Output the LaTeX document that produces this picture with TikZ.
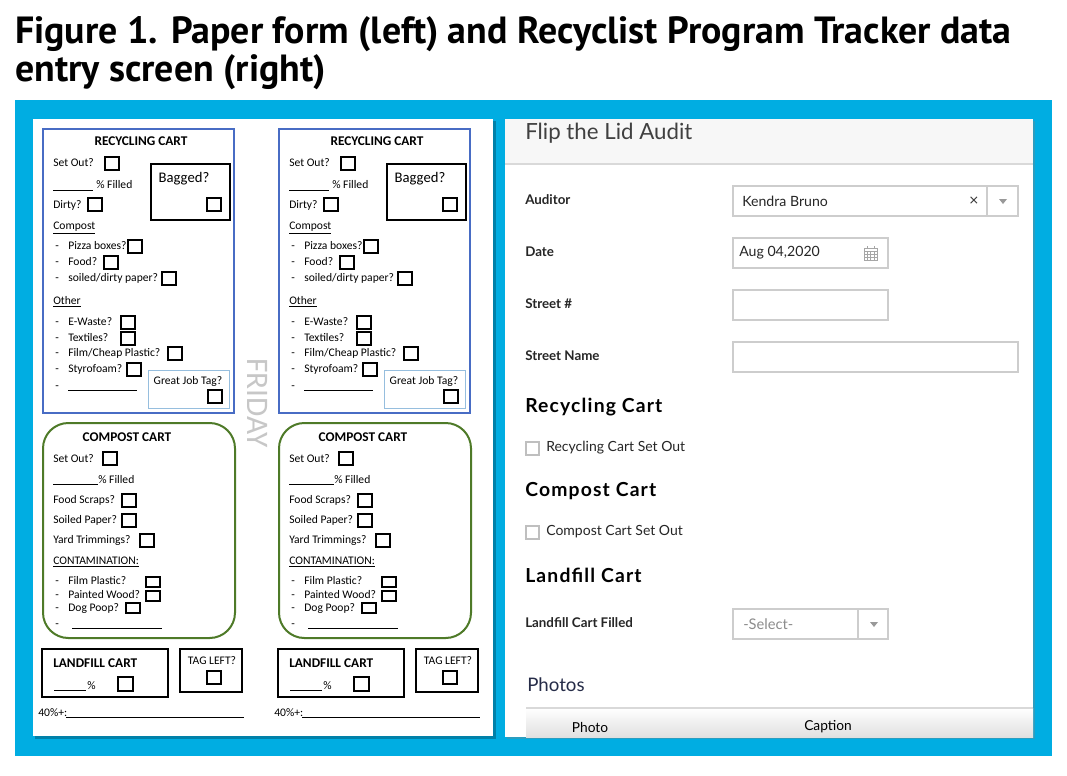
\documentclass[tikz,border=0pt]{standalone}
\usepackage{fontspec}
\setmainfont{Carlito}
\newfontfamily\titlefont{PT Sans}
\newfontfamily\appfont{Lato}
\newfontfamily\appwide[LetterSpace=6]{Lato}
\newfontfamily\symfont{DejaVu Sans}
\usetikzlibrary{calc,shadows}
\definecolor{framecyan}{RGB}{0,173,226}
\definecolor{cartblue}{RGB}{72,108,196}
\definecolor{cartgreen}{RGB}{78,122,40}
\definecolor{tagblue}{RGB}{150,190,222}
\definecolor{fieldgray}{RGB}{205,205,205}
\definecolor{navy}{RGB}{38,44,72}
\def\ckbox(#1,#2){\draw[line width=0.8pt] (#1,#2) rectangle ++(14,13);}
\def\flatbox(#1,#2){\draw[line width=0.8pt] (#1,#2) rectangle ++(14,10);}
\tikzset{
  formtxt/.style={anchor=west, inner sep=0pt, text height=6pt, text depth=1pt, font=\fontsize{8.7}{10}\selectfont},
  formhead/.style={inner sep=0pt, font=\bfseries\fontsize{10}{12}\selectfont},
  applabel/.style={anchor=west, inner sep=0pt, font=\appfont\bfseries\fontsize{10}{12}\selectfont, text=black!85},
  appvalue/.style={anchor=west, inner sep=0pt, font=\appfont\fontsize{10.6}{12}\selectfont, text=black!85},
  apphead/.style={anchor=west, inner sep=0pt, font=\appwide\bfseries\fontsize{14.5}{17}\selectfont},
  field/.style={draw=fieldgray, line width=0.8pt, fill=white},
}
\begin{document}
\begin{tikzpicture}[x=0.75pt, y=-0.75pt]
		%%%%% START %%%%%
		\useasboundingbox (0, 0) rectangle (1067, 775);
		
		\node[anchor=base west, inner sep=0pt, font=\titlefont\bfseries\fontsize{28.4}{34}\selectfont] (title1) at (15, 43) {Figure 1. Paper form (left) and Recyclist Program Tracker data};
		\node[anchor=base west, inner sep=0pt, font=\titlefont\bfseries\fontsize{28.4}{34}\selectfont] (title2) at (15, 81) {entry screen (right)};
		
		\fill[framecyan] (15, 100) rectangle (1052, 756);
		\fill[black, opacity=0.25] (35, 121) rectangle (496, 739);
		\fill[white] (33, 119) rectangle (493, 736);
		
		%%%%% PAPER FORM, TWO COLUMNS %%%%%
		\foreach \dx in {0, 236} {
		\begin{scope}[shift={(\dx, 0)}]
		\draw[cartblue, line width=1.5pt] (43, 129) rectangle (234, 413);
		\node[formhead] (rchead\dx) at (141, 141) {RECYCLING CART};
		\node[formtxt] (rcset\dx) at (53, 163) {Set Out?}; \ckbox(105, 157)
		\draw (53, 190) -- (93, 190);
		\node[formtxt] (rcfill\dx) at (96, 185) {\% Filled};
		\node[formtxt] (rcdirty\dx) at (53, 205) {Dirty?}; \ckbox(88, 198)
		
		\draw[line width=1.8pt] (151, 164) rectangle (230, 220);
		\node[inner sep=0pt, font=\fontsize{11}{13}\selectfont] (bagged\dx) at (184, 179) {Bagged?};
		\ckbox(207, 198)
		
		\node[formtxt] (rccomp\dx) at (53, 226) {\underline{Compost}};
		\node[formtxt] at (55, 246) {-}; \node[formtxt] (pizza\dx) at (68, 246) {Pizza boxes?}; \ckbox(128, 240)
		\node[formtxt] at (55, 262) {-}; \node[formtxt] (food\dx) at (68, 262) {Food?}; \ckbox(104, 256)
		\node[formtxt] at (55, 278) {-}; \node[formtxt] (soiled\dx) at (68, 278) {soiled/dirty paper?}; \ckbox(162, 272)
		
		\node[formtxt] (rcother\dx) at (53, 301) {\underline{Other}};
		\node[formtxt] at (55, 322) {-}; \node[formtxt] (ewaste\dx) at (68, 322) {E-Waste?}; \ckbox(121, 316)
		\node[formtxt] at (55, 338) {-}; \node[formtxt] (textile\dx) at (68, 338) {Textiles?}; \ckbox(121, 332)
		\node[formtxt] at (55, 353) {-}; \node[formtxt] (film\dx) at (68, 353) {Film/Cheap Plastic?}; \ckbox(168, 347)
		\node[formtxt] at (55, 369) {-}; \node[formtxt] (styro\dx) at (68, 369) {Styrofoam?}; \ckbox(127, 363)
		\node[formtxt] at (55, 386) {-}; \draw (68, 390) -- (137, 390);
		
		\draw[tagblue, line width=0.6pt] (148, 370) rectangle (229, 408);
		\node[inner sep=0pt, font=\fontsize{8.7}{10}\selectfont] (greatjob\dx) at (188, 381) {Great Job Tag?};
		\ckbox(208, 390)
		
		\draw[cartgreen, line width=1.5pt, rounded corners=19pt] (43, 423) rectangle (235, 638);
		\node[formhead] (cchead\dx) at (127, 437) {COMPOST CART};
		\node[formtxt] (ccset\dx) at (53, 459) {Set Out?}; \ckbox(103, 452)
		\draw (53, 484) -- (98, 484);
		\node[formtxt] (ccfill\dx) at (98, 480) {\% Filled};
		\node[formtxt] (scraps\dx) at (53, 500) {Food Scraps?}; \ckbox(122, 494)
		\node[formtxt] (paper\dx) at (53, 520) {Soiled Paper?}; \ckbox(122, 514)
		\node[formtxt] (yard\dx) at (53, 540) {Yard Trimmings?}; \ckbox(140, 534)
		\node[formtxt] (contam\dx) at (53, 561) {\underline{CONTAMINATION:}};
		\node[formtxt] at (55, 581) {-}; \node[formtxt] (filmpl\dx) at (68, 581) {Film Plastic?}; \flatbox(146, 577)
		\node[formtxt] at (55, 595) {-}; \node[formtxt] (wood\dx) at (68, 595) {Painted Wood?}; \flatbox(146, 591)
		\node[formtxt] at (55, 608) {-}; \node[formtxt] (poop\dx) at (68, 608) {Dog Poop?}; \flatbox(126, 603)
		\node[formtxt] at (55, 624) {-}; \draw (72, 628) -- (162, 628);
		
		\draw[line width=1.8pt] (42, 649) rectangle (168, 697);
		\node[formhead, anchor=west] (lfhead\dx) at (53, 663) {LANDFILL CART};
		\draw (54, 690) -- (86, 690);
		\node[formtxt] (lfpct\dx) at (87, 686) {\%};
		\draw[line width=0.8pt] (118, 677) rectangle ++(15, 14);
		
		\draw[line width=1.8pt] (180, 649) rectangle (242, 692);
		\node[inner sep=0pt, font=\fontsize{8.7}{10}\selectfont] (tagleft\dx) at (212, 661) {TAG LEFT?};
		\ckbox(207, 671)
		
		\node[formtxt] (forty\dx) at (38, 713) {40\%+:};
		\draw (66, 717) -- (244, 717);
		\end{scope}
		}
		
		\node[rotate=-90, inner sep=0pt, text=black!22, font=\fontsize{23.5}{26}\selectfont] (friday) at (258, 403) {FRIDAY};
		
		%%%%% APP SCREEN %%%%%
		\fill[white, drop shadow={opacity=0.35, shadow xshift=1.5pt, shadow yshift=-1.5pt}] (505, 119) rectangle (1033, 737);
		\fill[black!3] (505, 119) rectangle (1033, 164);
		\draw[black!15, line width=0.8pt] (505, 164) -- (1033, 164);
		\node[anchor=west, inner sep=0pt, text=black!75, font=\appfont\fontsize{16.7}{20}\selectfont] (apptitle) at (525, 133) {Flip the Lid Audit};
		
		\node[applabel] (auditor) at (525, 200) {Auditor};
		\draw[field] (733, 186) rectangle (1018, 216);
		\draw[fieldgray, line width=0.8pt] (987, 186) -- (987, 216);
		\node[appvalue] (kendra) at (742, 201) {Kendra Bruno};
		\node[inner sep=0pt, text=black!80, font=\symfont\fontsize{9.5}{10}\selectfont] (clearx) at (974, 201) {×};
		\fill[black!40] (999, 199) -- (1007, 199) -- (1003, 204) -- cycle;
		
		\node[applabel] (date) at (525, 252) {Date};
		\draw[field] (733, 238) rectangle (888, 268);
		\node[appvalue] (datevalue) at (739, 253) {Aug 04,2020};
		\draw[black!35, line width=0.5pt] (864, 248) rectangle (877, 260);
		\foreach \gy in {251, 254, 257} { \draw[black!35, line width=0.4pt] (864, \gy) -- (877, \gy); }
		\foreach \gx in {867, 870.5, 874} { \draw[black!35, line width=0.4pt] (\gx, 251) -- (\gx, 260); }
		\draw[black!35, line width=0.6pt] (867, 246) -- (867, 249) (874, 246) -- (874, 249);
		
		\node[applabel] (streetno) at (525, 304) {Street \#};
		\draw[field] (733, 290) rectangle (888, 320);
		\node[applabel] (streetname) at (525, 356) {Street Name};
		\draw[field] (733, 342) rectangle (1018, 372);
		
		\node[apphead] (rchead) at (525, 407) {Recycling Cart};
		\draw[black!25, line width=0.8pt] (526, 442) rectangle (539, 455);
		\node[appvalue, font=\appfont\fontsize{10.5}{12}\selectfont] (rcsetout) at (546, 448) {Recycling Cart Set Out};
		
		\node[apphead] (cchead) at (525, 491) {Compost Cart};
		\draw[black!25, line width=0.8pt] (526, 526) rectangle (539, 539);
		\node[appvalue, font=\appfont\fontsize{10.5}{12}\selectfont] (ccsetout) at (546, 532) {Compost Cart Set Out};
		
		\node[apphead] (lfhead) at (525, 575) {Landfill Cart};
		\node[applabel] (lffilled) at (525, 623) {Landfill Cart Filled};
		\draw[field] (733, 609) rectangle (888, 639);
		\draw[fieldgray, line width=0.8pt] (858, 609) -- (858, 639);
		\node[appvalue, font=\appfont\fontsize{11}{13}\selectfont, text=black!45] (select) at (743, 624) {-Select-};
		\fill[black!40] (870, 622) -- (878, 622) -- (874, 627) -- cycle;
		
		\node[anchor=west, inner sep=0pt, text=navy, font=\appfont\fontsize{14}{16}\selectfont] (photos) at (527, 685) {Photos};
		\shade[top color=white, bottom color=black!12] (526, 708) rectangle (1033, 737);
		\draw[black!15, line width=0.8pt] (526, 708) -- (1033, 708);
		\node[inner sep=0pt, font=\appfont\fontsize{10.3}{12}\selectfont] (photocol) at (590, 727) {Photo};
		\node[inner sep=0pt, font=\appfont\fontsize{10.3}{12}\selectfont] (captioncol) at (828, 727) {Caption};
		
		%%%%% END %%%%%
	\end{tikzpicture}
\end{document}
